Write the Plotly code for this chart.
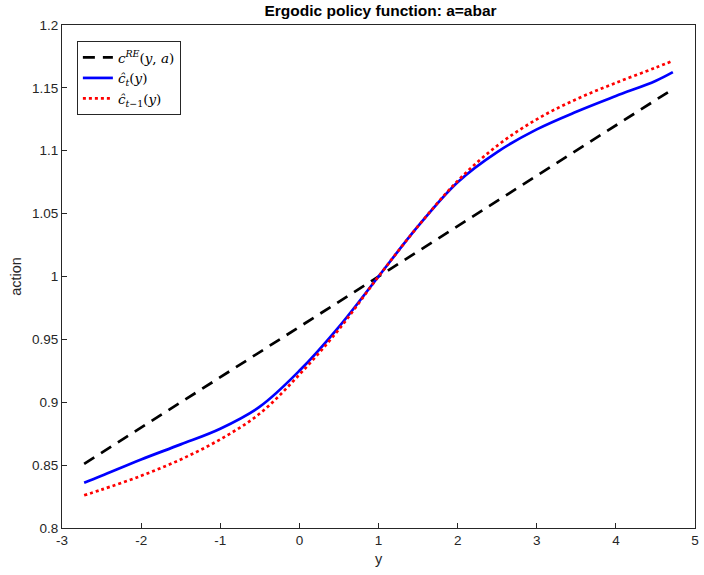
import plotly.graph_objects as go

# data
y_grid = [-2.72, -2.5, -2.0, -1.5, -1.0, -0.5, 0.0, 0.5, 1.0, 1.5, 2.0, 2.5, 3.0, 3.5, 4.0, 4.5, 4.72]
c_hat_t = [0.836, 0.8415, 0.8545, 0.8665, 0.879, 0.8965, 0.925, 0.960, 1.000, 1.040, 1.075, 1.099, 1.117, 1.131, 1.1435, 1.1555, 1.1625]
c_hat_tm1 = [0.826, 0.8305, 0.8415, 0.8545, 0.8705, 0.891, 0.922, 0.958, 1.000, 1.040, 1.076, 1.104, 1.125, 1.141, 1.154, 1.166, 1.1715]
y_re = [-2.72, 4.72]
c_re = [0.851, 1.149]

x_ticks = [-3, -2, -1, 0, 1, 2, 3, 4, 5]
x_tick_text = ["-3", "-2", "-1", "0", "1", "2", "3", "4", "5"]
y_ticks = [0.8, 0.85, 0.9, 0.95, 1.0, 1.05, 1.1, 1.15, 1.2]
y_tick_text = ["0.8", "0.85", "0.9", "0.95", "1", "1.05", "1.1", "1.15", "1.2"]

SANS = "Liberation Sans, Arial, sans-serif"

fig = go.Figure()
fig.add_trace(go.Scatter(
    x=y_re, y=c_re, mode="lines",
    name="<i>c</i><sup><i>RE</i></sup>(<i>y</i>, <i>a</i>)",
    line=dict(color="black", width=2.7, dash="12px,8px")))
fig.add_trace(go.Scatter(
    x=y_grid, y=c_hat_t, mode="lines", line_shape="spline",
    name="<i>ĉ</i><sub><i>t</i></sub>(<i>y</i>)",
    line=dict(color="#0000ff", width=2.7, smoothing=1.0)))
fig.add_trace(go.Scatter(
    x=y_grid, y=c_hat_tm1, mode="lines", line_shape="spline",
    name="<i>ĉ</i><sub><i>t</i>−1</sub>(<i>y</i>)",
    line=dict(color="#ff0000", width=2.7, dash="dot", smoothing=1.0)))

axis_common = dict(
    showline=True, mirror=True, linecolor="#262626", linewidth=1,
    ticks="inside", ticklen=5, tickcolor="#262626",
    showgrid=False, zeroline=False,
    tickfont=dict(family=SANS, size=13.5, color="#262626"),
)

fig.update_layout(
    width=704, height=575,
    margin=dict(l=62, r=5, t=25, b=47),
    paper_bgcolor="white", plot_bgcolor="white",
    title=dict(text="<b>Ergodic policy function: a=abar</b>",
               x=(62 + 699) / 2 / 704, xanchor="center", y=1 - 11 / 575, yanchor="middle",
               font=dict(family=SANS, size=15.5, color="black")),
    xaxis=dict(range=[-3, 5], tickvals=x_ticks, ticktext=x_tick_text,
               title=dict(text="y", standoff=6,
                          font=dict(family=SANS, size=14.5, color="#262626")),
               **axis_common),
    yaxis=dict(range=[0.8, 1.2], tickvals=y_ticks, ticktext=y_tick_text,
               title=dict(text="action", standoff=6,
                          font=dict(family=SANS, size=14.5, color="#262626")),
               **axis_common),
    legend=dict(x=0.0235, y=0.968, xanchor="left", yanchor="top",
                bgcolor="white", bordercolor="#262626", borderwidth=1,
                font=dict(family="DejaVu Serif, serif", size=13.5, color="black"),
                tracegroupgap=0, itemwidth=30),
    showlegend=True,
)

fig.write_html("out.html")
